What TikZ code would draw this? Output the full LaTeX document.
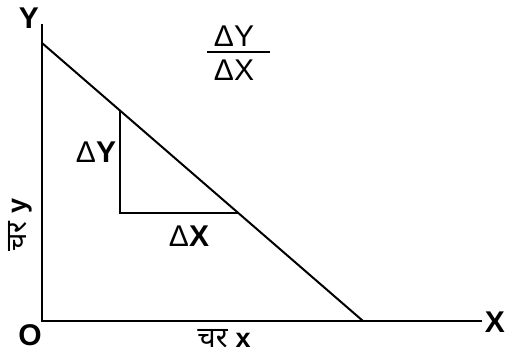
\documentclass[tikz,border=0pt]{standalone}
\usepackage{fontspec}
\setmainfont{Liberation Sans}
\newfontfamily\devfont[Script=Devanagari]{Noto Sans}
\begin{document}
\begin{tikzpicture}[x=1pt,y=-1pt,
  axis/.style={line width=2.4pt},
  thin/.style={line width=2pt},
  lbl/.style={inner sep=0pt,font=\fontsize{30}{32}\selectfont\bfseries},
  lblr/.style={inner sep=0pt,font=\fontsize{30}{32}\selectfont}]
\useasboundingbox (0,0) rectangle (507,358);
\coordinate (O) at (42,321);
\coordinate (Ytop) at (42,24);
\coordinate (Xend) at (482,321);
\coordinate (A) at (42,43);
\coordinate (B) at (363,321);
\coordinate (P) at (120,110.5);
\coordinate (Q) at (120,213);
\coordinate (R) at (238,213);
\coordinate (F1) at (207,52);
\coordinate (F2) at (270,52);
\draw[axis] (Ytop) -- (O) -- (Xend);
\draw[thin] (A) -- (B);
\draw[thin] (P) -- (Q) -- (R);
\draw[line width=2pt] (F1) -- (F2);
\node[lbl] (ylab) at (29,18) {Y};
\node[lbl] (xlab) at (495,322) {X};
\node[lbl] (olab) at (30,335) {O};
\node[lbl] (dy) at (96,152) {{\mdseries Δ}Y};
\node[lbl] (dx) at (189,236) {{\mdseries Δ}X};
\node[lblr] (fnum) at (234,36) {ΔY};
\node[lblr] (fden) at (234,70) {ΔX};
\node[inner sep=0pt,font=\fontsize{27}{30}\selectfont] (xvar) at (224,339) {{\devfont\fontsize{29}{30}\selectfont चर} \textbf{x}};
\node[inner sep=0pt,font=\fontsize{27}{30}\selectfont,rotate=90] (yvar) at (20,225) {{\devfont\fontsize{29}{30}\selectfont चर} \textbf{y}};
\end{tikzpicture}
\end{document}
